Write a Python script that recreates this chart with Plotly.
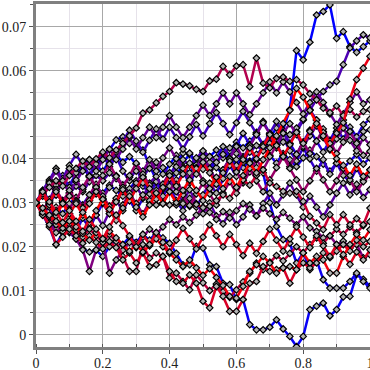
import plotly.graph_objects as go

x_vals = [0.00, 0.02, 0.04, 0.06, 0.08, 0.10, 0.12, 0.14, 0.16, 0.18,
          0.20, 0.22, 0.24, 0.26, 0.28, 0.30, 0.32, 0.34, 0.36, 0.38,
          0.40, 0.42, 0.44, 0.46, 0.48, 0.50, 0.52, 0.54, 0.56, 0.58,
          0.60, 0.62, 0.64, 0.66, 0.68, 0.70, 0.72, 0.74, 0.76, 0.78,
          0.80, 0.82, 0.84, 0.86, 0.88, 0.90, 0.92, 0.94, 0.96, 0.98,
          1.00]

s01 = [.0300,.0318,.0305,.0330,.0352,.0340,.0365,.0378,.0362,.0385,
       .0372,.0395,.0410,.0392,.0405,.0388,.0370,.0392,.0380,.0365,
       .0388,.0408,.0392,.0410,.0395,.0415,.0405,.0420,.0402,.0418,
       .0438,.0425,.0440,.0455,.0432,.0448,.0470,.0465,.0512,.0646,
       .0625,.0665,.0727,.0735,.0750,.0674,.0689,.0655,.0642,.0655,
       .0668]
s02 = [.0300,.0285,.0262,.0240,.0255,.0232,.0218,.0195,.0188,.0192,
       .0178,.0200,.0215,.0205,.0222,.0210,.0228,.0215,.0232,.0220,
       .0208,.0185,.0159,.0159,.0201,.0197,.0159,.0155,.0117,.0114,
       .0080,.0080,.0023,.0011,.0011,.0017,.0034,.0013,-.0004,-.0027,
       -.0004,.0057,.0065,.0072,.0043,.0057,.0086,.0087,.0137,.0126,
       .0110]
s03 = [.0300,.0282,.0270,.0290,.0275,.0298,.0312,.0295,.0318,.0335,
       .0322,.0340,.0328,.0315,.0332,.0350,.0338,.0322,.0345,.0330,
       .0352,.0368,.0382,.0368,.0390,.0376,.0392,.0380,.0365,.0385,
       .0398,.0380,.0395,.0380,.0368,.0300,.0246,.0216,.0208,.0163,
       .0186,.0148,.0170,.0125,.0106,.0106,.0106,.0121,.0140,.0121,
       .0106]
s04 = [.0300,.0322,.0345,.0335,.0358,.0372,.0360,.0385,.0398,.0382,
       .0405,.0420,.0443,.0450,.0435,.0435,.0420,.0385,.0352,.0337,
       .0362,.0390,.0413,.0413,.0386,.0392,.0375,.0398,.0415,.0400,
       .0385,.0405,.0392,.0410,.0425,.0408,.0390,.0412,.0398,.0382,
       .0402,.0420,.0405,.0388,.0372,.0390,.0378,.0395,.0410,.0388,
       .0402]
s05 = [.0300,.0272,.0245,.0205,.0232,.0258,.0235,.0265,.0242,.0272,
       .0298,.0275,.0305,.0332,.0305,.0282,.0310,.0338,.0312,.0342,
       .0368,.0342,.0370,.0345,.0372,.0400,.0375,.0402,.0428,.0402,
       .0430,.0458,.0432,.0460,.0485,.0458,.0432,.0460,.0435,.0410,
       .0438,.0465,.0440,.0415,.0442,.0470,.0445,.0472,.0450,.0478,
       .0490]
s06 = [.0300,.0328,.0305,.0340,.0362,.0335,.0368,.0390,.0362,.0395,
       .0410,.0382,.0405,.0372,.0350,.0378,.0345,.0320,.0348,.0315,
       .0338,.0305,.0282,.0310,.0290,.0318,.0345,.0322,.0355,.0385,
       .0360,.0392,.0420,.0398,.0430,.0452,.0425,.0448,.0418,.0395,
       .0425,.0400,.0372,.0398,.0365,.0390,.0362,.0348,.0378,.0352,
       .0375]
s07 = [.0300,.0328,.0352,.0378,.0355,.0385,.0410,.0385,.0360,.0388,
       .0412,.0388,.0415,.0440,.0465,.0440,.0415,.0442,.0468,.0445,
       .0472,.0448,.0422,.0450,.0478,.0452,.0480,.0505,.0480,.0455,
       .0482,.0508,.0482,.0458,.0432,.0458,.0485,.0460,.0435,.0462,
       .0488,.0512,.0488,.0462,.0438,.0462,.0488,.0462,.0438,.0462,
       .0466]
s08 = [.0300,.0285,.0302,.0318,.0305,.0322,.0338,.0325,.0348,.0362,
       .0350,.0368,.0355,.0340,.0358,.0372,.0360,.0378,.0392,.0380,
       .0365,.0382,.0398,.0385,.0402,.0418,.0405,.0392,.0410,.0425,
       .0412,.0398,.0415,.0430,.0418,.0435,.0450,.0438,.0455,.0470,
       .0490,.0510,.0535,.0553,.0568,.0576,.0614,.0652,.0668,.0682,
       .0675]
s09 = [.0300,.0275,.0290,.0258,.0238,.0265,.0242,.0225,.0250,.0272,
       .0248,.0280,.0305,.0282,.0310,.0338,.0312,.0345,.0360,.0332,
       .0355,.0325,.0302,.0330,.0298,.0275,.0300,.0270,.0252,.0278,
       .0250,.0268,.0295,.0270,.0298,.0322,.0295,.0318,.0345,.0318,
       .0290,.0315,.0290,.0268,.0295,.0322,.0345,.0318,.0342,.0312,
       .0330]
s10 = [.0300,.0325,.0348,.0372,.0348,.0322,.0348,.0372,.0398,.0372,
       .0398,.0422,.0398,.0422,.0448,.0422,.0448,.0472,.0448,.0472,
       .0498,.0472,.0448,.0472,.0498,.0522,.0498,.0525,.0550,.0525,
       .0550,.0525,.0500,.0525,.0550,.0575,.0550,.0575,.0552,.0528,
       .0502,.0528,.0552,.0528,.0502,.0478,.0502,.0528,.0552,.0525,
       .0534]
s11 = [.0300,.0322,.0345,.0318,.0350,.0378,.0352,.0330,.0358,.0338,
       .0310,.0335,.0362,.0340,.0315,.0345,.0372,.0398,.0372,.0402,
       .0425,.0400,.0378,.0352,.0380,.0405,.0378,.0350,.0375,.0400,
       .0428,.0402,.0430,.0455,.0482,.0455,.0430,.0458,.0480,.0455,
       .0428,.0452,.0475,.0448,.0420,.0445,.0470,.0442,.0418,.0448,
       .0432]
s12 = [.0300,.0278,.0255,.0232,.0250,.0235,.0218,.0193,.0144,.0193,
       .0210,.0140,.0170,.0192,.0210,.0198,.0222,.0240,.0228,.0245,
       .0262,.0250,.0268,.0255,.0272,.0290,.0278,.0262,.0280,.0265,
       .0282,.0298,.0285,.0270,.0288,.0275,.0262,.0278,.0265,.0250,
       .0268,.0243,.0235,.0220,.0225,.0205,.0213,.0197,.0205,.0175,
       .0182]
s13 = [.0300,.0280,.0308,.0330,.0305,.0285,.0312,.0290,.0318,.0342,
       .0315,.0292,.0268,.0295,.0322,.0298,.0275,.0302,.0328,.0300,
       .0325,.0352,.0325,.0350,.0378,.0350,.0322,.0348,.0375,.0400,
       .0372,.0345,.0370,.0398,.0375,.0405,.0432,.0408,.0382,.0410,
       .0438,.0412,.0440,.0468,.0440,.0412,.0438,.0462,.0435,.0408,
       .0417]
s14 = [.0300,.0322,.0298,.0275,.0302,.0328,.0305,.0335,.0360,.0335,
       .0362,.0388,.0360,.0335,.0362,.0390,.0365,.0340,.0315,.0342,
       .0368,.0342,.0318,.0292,.0320,.0345,.0320,.0295,.0322,.0348,
       .0322,.0350,.0378,.0350,.0325,.0352,.0380,.0405,.0378,.0352,
       .0325,.0350,.0378,.0352,.0325,.0350,.0378,.0352,.0325,.0348,
       .0364]
s15 = [.0300,.0318,.0335,.0350,.0338,.0362,.0378,.0395,.0382,.0400,
       .0415,.0402,.0420,.0435,.0452,.0470,.0504,.0511,.0527,.0542,
       .0553,.0573,.0570,.0566,.0558,.0553,.0577,.0581,.0610,.0591,
       .0611,.0614,.0564,.0629,.0572,.0561,.0583,.0586,.0576,.0580,
       .0568,.0548,.0534,.0515,.0505,.0520,.0498,.0512,.0495,.0508,
       .0512]
s16 = [.0300,.0285,.0268,.0250,.0235,.0252,.0238,.0222,.0240,.0225,
       .0210,.0228,.0212,.0178,.0144,.0144,.0205,.0174,.0186,.0178,
       .0129,.0140,.0121,.0102,.0136,.0118,.0100,.0115,.0098,.0085,
       .0102,.0120,.0140,.0163,.0148,.0165,.0180,.0168,.0185,.0200,
       .0186,.0205,.0220,.0208,.0225,.0240,.0228,.0245,.0232,.0248,
       .0257]
s17 = [.0300,.0315,.0298,.0282,.0300,.0315,.0302,.0288,.0305,.0320,
       .0308,.0292,.0310,.0325,.0312,.0298,.0318,.0305,.0295,.0298,
       .0295,.0295,.0298,.0294,.0296,.0289,.0292,.0305,.0318,.0310,
       .0335,.0352,.0340,.0362,.0375,.0345,.0337,.0326,.0322,.0326,
       .0303,.0269,.0254,.0239,.0273,.0250,.0273,.0250,.0264,.0250,
       .0288]
s18 = [.0300,.0272,.0250,.0205,.0222,.0240,.0225,.0208,.0225,.0210,
       .0195,.0212,.0198,.0170,.0186,.0163,.0186,.0155,.0159,.0178,
       .0144,.0121,.0117,.0136,.0117,.0076,.0061,.0110,.0087,.0053,
       .0053,.0080,.0117,.0121,.0155,.0144,.0148,.0152,.0117,.0148,
       .0163,.0152,.0163,.0186,.0175,.0190,.0205,.0190,.0215,.0200,
       .0212]
s19 = [.0300,.0278,.0302,.0325,.0300,.0275,.0298,.0272,.0298,.0325,
       .0300,.0275,.0302,.0330,.0305,.0332,.0358,.0332,.0308,.0335,
       .0362,.0338,.0365,.0390,.0365,.0392,.0368,.0342,.0368,.0395,
       .0370,.0398,.0425,.0400,.0428,.0455,.0430,.0405,.0432,.0460,
       .0435,.0462,.0488,.0460,.0435,.0458,.0482,.0536,.0580,.0606,
       .0633]
s20 = [.0300,.0320,.0295,.0270,.0298,.0275,.0250,.0278,.0255,.0282,
       .0308,.0285,.0260,.0288,.0315,.0290,.0268,.0295,.0322,.0298,
       .0325,.0300,.0328,.0352,.0328,.0305,.0332,.0358,.0332,.0360,
       .0335,.0362,.0390,.0368,.0398,.0425,.0452,.0480,.0510,.0560,
       .0540,.0510,.0480,.0452,.0422,.0400,.0385,.0362,.0388,.0360,
       .0375]
s21 = [.0300,.0288,.0272,.0258,.0242,.0258,.0245,.0230,.0215,.0232,
       .0218,.0235,.0220,.0205,.0190,.0205,.0188,.0202,.0218,.0200,
       .0185,.0170,.0155,.0170,.0152,.0135,.0150,.0130,.0112,.0087,
       .0083,.0110,.0144,.0159,.0178,.0163,.0140,.0152,.0155,.0148,
       .0186,.0163,.0178,.0170,.0140,.0140,.0178,.0205,.0228,.0215,
       .0239]
s22 = [.0300,.0325,.0302,.0278,.0255,.0282,.0258,.0235,.0262,.0240,
       .0218,.0245,.0272,.0248,.0225,.0200,.0228,.0205,.0232,.0210,
       .0188,.0215,.0242,.0218,.0195,.0222,.0250,.0225,.0200,.0228,
       .0205,.0180,.0208,.0185,.0212,.0240,.0215,.0190,.0218,.0245,
       .0222,.0198,.0225,.0202,.0178,.0205,.0182,.0160,.0188,.0170,
       .0193]

series = [s01, s02, s03, s04, s05, s06, s07, s08, s09, s10, s11,
          s12, s13, s14, s15, s16, s17, s18, s19, s20, s21, s22]

x_tick_vals = [0, 0.2, 0.4, 0.6, 0.8, 1.0]
x_tick_text = ["0", "0.2", "0.4", "0.6", "0.8", "1"]
y_tick_vals = [0, 0.01, 0.02, 0.03, 0.04, 0.05, 0.06, 0.07]
y_tick_text = ["0", "0.01", "0.02", "0.03", "0.04", "0.05", "0.06", "0.07"]

colors = ["#0000ff", "#0800f7", "#0f00f0", "#1a00e6", "#2600d9", "#3300cc",
          "#4000bf", "#4d00b3", "#5900a6", "#660099", "#73008c", "#800080",
          "#8c0073", "#990066", "#b3004d", "#bf0040", "#cc0033", "#d90026",
          "#eb0014", "#ff0000", "#f2000d", "#e0001f"]

fig = go.Figure()
for vals, col in zip(series, colors):
    fig.add_trace(go.Scatter(
        x=x_vals, y=vals, mode="lines+markers",
        line=dict(color=col, width=2.5),
        marker=dict(symbol="diamond", size=5, color="#b4b4b4",
                    line=dict(color="black", width=1.2)),
        showlegend=False, hoverinfo="skip"))

font = dict(family="Liberation Serif", size=14, color="#222222")

fig.update_layout(
    width=370, height=370,
    margin=dict(l=36, r=0, t=4, b=23),
    plot_bgcolor="white", paper_bgcolor="white",
    showlegend=False,
    xaxis=dict(range=[0, 1], tickvals=x_tick_vals, ticktext=x_tick_text,
               tickfont=font, showgrid=True, gridcolor="#a8a8a8", gridwidth=1,
               zeroline=False, showline=True, linecolor="#808080", linewidth=3,
               mirror=True, ticks="outside", ticklen=4, tickcolor="#555555",
               automargin=False, ticklabeloverflow="allow",
               ticklabelstandoff=-3,
               minor=dict(dtick=0.1, tick0=0, showgrid=True, gridcolor="#e6e2ea",
                          ticks="inside", ticklen=3, tickcolor="#555555")),
    yaxis=dict(range=[-0.0028, 0.0752], tickvals=y_tick_vals, ticktext=y_tick_text,
               tickfont=font, showgrid=True, gridcolor="#a8a8a8", gridwidth=1,
               zeroline=False, showline=True, linecolor="#808080", linewidth=3,
               mirror=False, ticks="outside", ticklen=4, tickcolor="#555555",
               automargin=False, ticklabeloverflow="allow",
               minor=dict(dtick=0.005, tick0=0, showgrid=True, gridcolor="#e6e2ea",
                          ticks="outside", ticklen=3, tickcolor="#555555")),
)

fig.write_html("out.html", config={"displayModeBar": False},
               post_script="document.body.style.margin='0';document.body.style.padding='0';")
